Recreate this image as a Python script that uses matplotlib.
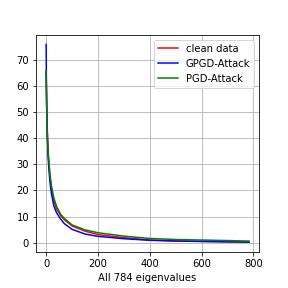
import matplotlib
matplotlib.use("Agg")
import matplotlib.pyplot as plt

idx = [0, 1, 2, 3, 5, 7, 10, 15, 20, 30, 40, 55, 70, 100, 150, 200, 300, 400, 500, 600, 700, 783]
clean = [66, 58, 52, 47, 40, 35, 31, 25, 21, 16, 13, 10.5, 8.8, 6.4, 4.4, 3.1, 1.9, 1.0, 0.7, 0.5, 0.35, 0.25]
gpgd = [76, 62, 54, 48, 40, 34, 29, 23, 19, 14, 11.5, 9.2, 7.3, 5.1, 3.3, 2.4, 1.5, 0.9, 0.6, 0.45, 0.3, 0.2]
pgd = [66, 59, 53, 48, 41, 36, 32, 26, 22, 17, 14, 11, 9.3, 6.8, 4.9, 3.8, 2.5, 1.6, 1.2, 1.0, 0.8, 0.6]

fig = plt.figure(figsize=(4, 4), dpi=72)
ax = fig.add_subplot(111)
fig.subplots_adjust(bottom=0.125)
ax.plot(idx, clean, color="red", label="clean data")
ax.plot(idx, gpgd, color="blue", label="GPGD-Attack")
ax.plot(idx, pgd, color="green", label="PGD-Attack")
ax.set_xlabel("All 784 eigenvalues")
ax.grid(True)
ax.legend(loc="upper right")
fig.savefig("out.png", dpi=72)
